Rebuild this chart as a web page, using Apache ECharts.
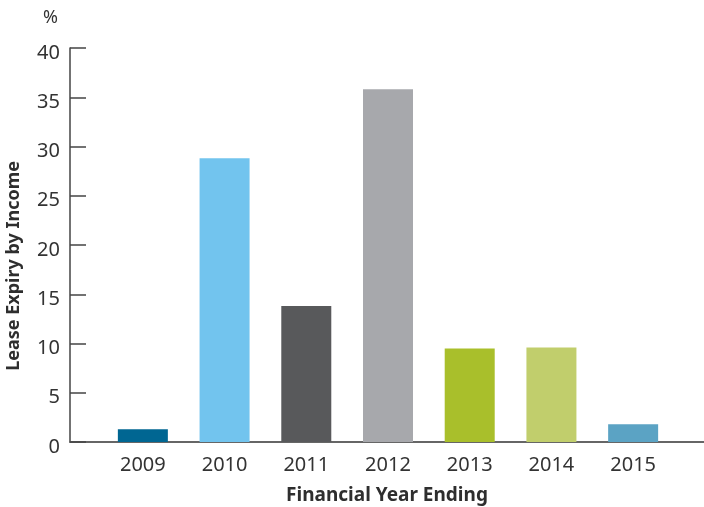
<!DOCTYPE html>
<html>
<head>
<meta charset="utf-8">
<script src="https://cdn.jsdelivr.net/npm/echarts@6/dist/echarts.min.js"></script>
<style>html,body{margin:0;padding:0;background:#fff}#c{width:704px;height:507px}</style>
</head>
<body>
<div id="c"></div>
<script>
const years = ['2009', '2010', '2011', '2012', '2013', '2014', '2015'];
const expiry = [1.3, 28.8, 13.8, 35.8, 9.5, 9.6, 1.8];
const yTicks = [0, 5, 10, 15, 20, 25, 30, 35, 40];
const barColors = ['#006692', '#72C4EE', '#58595B', '#A7A8AC', '#A9BF2B', '#C1CE6C', '#5BA3C4'];

const FONT = 'Noto Sans';
const yMin = yTicks[0], yMax = yTicks[yTicks.length - 1], yStep = yTicks[1] - yTicks[0];
const chart = echarts.init(document.getElementById('c'), null, {renderer: 'canvas'});
chart.setOption({
  animation: false,
  textStyle: {fontFamily: FONT},
  grid: [
    {left: 70, right: 0, top: 48, bottom: 65, containLabel: false, outerBoundsMode: 'none'},
    {left: 102, right: 30, top: 48, bottom: 65, containLabel: false, outerBoundsMode: 'none'}
  ],
  xAxis: [{
    gridIndex: 0,
    type: 'value', min: 0, max: 1,
    splitLine: {show: false},
    axisTick: {show: false},
    axisLabel: {show: false},
    axisLine: {show: true, onZero: false, lineStyle: {color: '#666', width: 2}},
    name: 'Financial Year Ending',
    nameLocation: 'middle',
    nameGap: 44,
    nameTextStyle: {color: '#2e2e2e', fontSize: 19, fontWeight: 'bold', fontFamily: FONT}
  }, {
    gridIndex: 1,
    type: 'category',
    data: years,
    axisLine: {show: false},
    axisTick: {show: false},
    splitLine: {show: false},
    axisLabel: {color: '#333', fontSize: 20, margin: 13, fontFamily: FONT}
  }],
  yAxis: [{
    gridIndex: 0,
    type: 'value',
    min: yMin, max: yMax, interval: yStep,
    splitLine: {show: false},
    axisLine: {show: true, onZero: false, lineStyle: {color: '#444', width: 1.5}},
    axisTick: {show: true, inside: true, length: 16, lineStyle: {color: '#444', width: 1.5}},
    axisLabel: {color: '#333', fontSize: 20, margin: 10, verticalAlign: 'top', lineHeight: 10, fontFamily: FONT},
    name: '%',
    nameLocation: 'end',
    nameGap: 21,
    nameTextStyle: {color: '#333', fontSize: 18, align: 'right', padding: [0, 12, 0, 0], fontFamily: FONT}
  }, {
    gridIndex: 1,
    type: 'value',
    min: yMin, max: yMax, interval: yStep,
    show: false
  }],
  graphic: [{
    type: 'text',
    left: 5, top: 161,
    rotation: Math.PI / 2,
    style: {text: 'Lease Expiry by Income', fill: '#2e2e2e', font: 'bold 18px "' + FONT + '"'}
  }],
  series: [{
    type: 'bar',
    xAxisIndex: 1, yAxisIndex: 1,
    barWidth: 50,
    data: expiry.map((v, i) => ({value: v, itemStyle: {color: barColors[i]}}))
  }]
});
</script>
</body>
</html>
